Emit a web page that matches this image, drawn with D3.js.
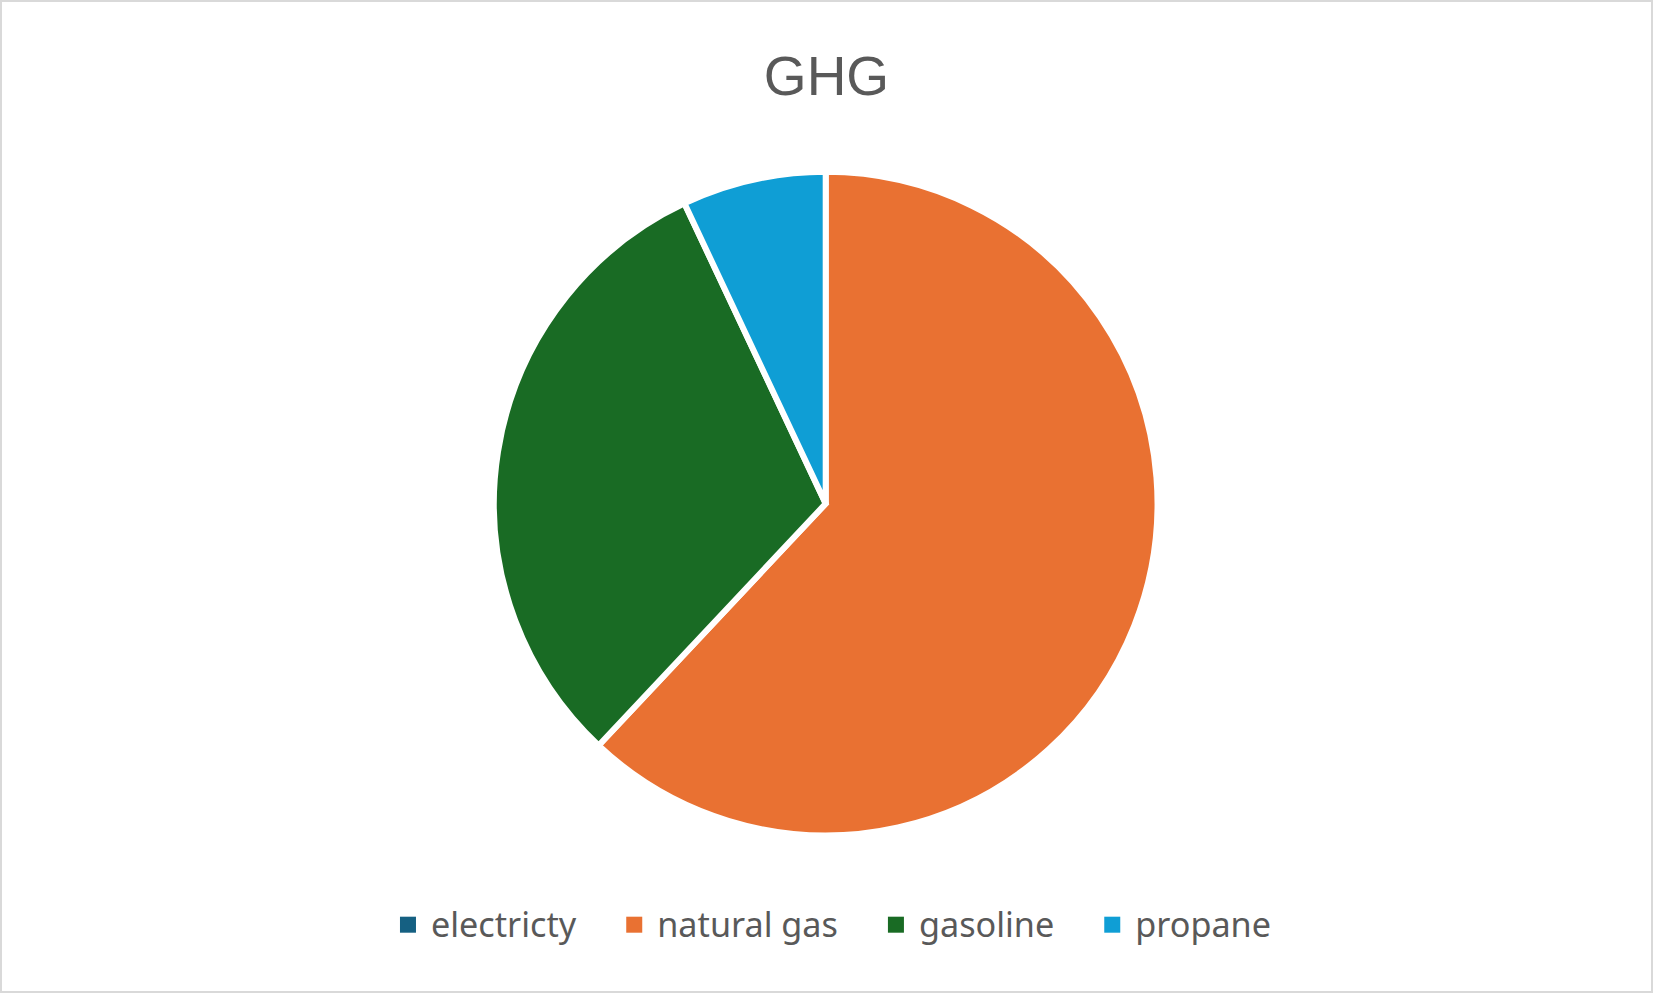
<!DOCTYPE html>
<html>
<head>
<meta charset="utf-8">
<script src="https://cdn.jsdelivr.net/npm/d3@7"></script>
<style>
  html, body { margin: 0; padding: 0; background: #fff; }
  svg { display: block; }
</style>
</head>
<body>
<svg id="chart" width="1653" height="993"></svg>
<script>
const title = "GHG";
const categories = ["electricty", "natural gas", "gasoline", "propane"];
const values = [0, 62.0, 31.0, 7.0];
const colors = ["#156082", "#E97132", "#196B24", "#0F9ED5"];

const W = 1653, H = 993;
const svg = d3.select("#chart");

svg.append("rect")
  .attr("x", 1).attr("y", 1).attr("width", W - 2).attr("height", H - 2)
  .attr("fill", "#fff").attr("stroke", "#d9d9d9").attr("stroke-width", 2);

svg.append("text")
  .attr("x", W / 2).attr("y", 95)
  .attr("text-anchor", "middle")
  .attr("font-family", "'Liberation Sans', Arial, sans-serif")
  .attr("font-size", 55)
  .attr("fill", "#595959")
  .text(title);

const data = categories.map((c, i) => ({ name: c, value: values[i], color: colors[i] }));
const pie = d3.pie().value(d => d.value).sort(null);
const radius = 331.8;
const arc = d3.arc().innerRadius(0).outerRadius(radius);

const g = svg.append("g").attr("transform", "translate(825.7,503.6)");
g.selectAll("path")
  .data(pie(data).filter(d => d.data.value > 0))
  .enter().append("path")
  .attr("d", arc)
  .attr("fill", d => d.data.color)
  .attr("stroke", "#fff")
  .attr("stroke-width", 6)
  .attr("stroke-linejoin", "miter");

// legend
const legend = svg.append("g");
const sq = 16, gapText = 15, gapItem = 50;
let x = 0;
const items = legend.selectAll("g.item").data(data).enter().append("g").attr("class", "item");
items.append("rect")
  .attr("width", sq).attr("height", sq)
  .attr("y", -sq / 2)
  .attr("fill", d => d.color);
items.append("text")
  .attr("x", sq + gapText)
  .attr("y", 12.5)
  .attr("font-family", "'Noto Sans', 'Open Sans', sans-serif")
  .attr("font-size", 34.2)
  .attr("fill", "#595959")
  .text(d => d.name);
items.each(function() {
  const t = d3.select(this).select("text").node().getComputedTextLength();
  d3.select(this).attr("transform", `translate(${x},0)`);
  x += sq + gapText + t + gapItem;
});
const total = x - gapItem;
legend.attr("transform", `translate(${835.5 - total / 2},924.7)`);
</script>
</body>
</html>
